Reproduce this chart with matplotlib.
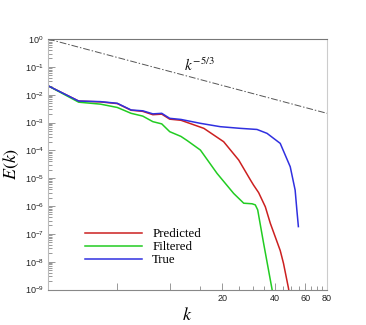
import matplotlib
matplotlib.use("Agg")
import matplotlib.pyplot as plt
from matplotlib.ticker import FixedLocator, NullFormatter, LogLocator, LogFormatterSciNotation
import numpy as np

# wavenumbers and log10(E)
k_true = [2, 3, 4, 5, 6, 7, 8, 9, 10, 11.6, 15, 19.5, 25.4, 31.7, 36.2, 43.1, 49.2, 52.5, 53.7, 54.8]
logE_true = [-1.68, -2.23, -2.25, -2.31, -2.55, -2.58, -2.69, -2.67, -2.85, -2.89, -3.03, -3.15,
             -3.21, -3.25, -3.39, -3.75, -4.59, -5.43, -6.14, -6.74]

k_pred = [2, 3, 4, 5, 6, 7, 8, 9, 10, 11.6, 15.7, 20.4, 24.9, 29.1, 30.3, 32.4, 35.4, 37.8,
          43.1, 45.0, 48.1, 49.0]
logE_pred = [-1.68, -2.23, -2.26, -2.32, -2.56, -2.60, -2.72, -2.70, -2.88, -2.92, -3.21, -3.69,
             -4.35, -5.07, -5.25, -5.52, -6.03, -6.62, -7.6, -8.06, -8.96, -9.3]

k_filt = [2, 3, 4, 5, 6, 7, 8, 9, 10, 11.6, 12.6, 15, 18.7, 23.3, 26.6, 29.7, 31.0, 32.0,
          34.6, 38.6, 39.2]
logE_filt = [-1.68, -2.27, -2.34, -2.46, -2.67, -2.77, -2.97, -3.05, -3.33, -3.50, -3.65, -3.99,
             -4.83, -5.55, -5.90, -5.92, -5.96, -6.14, -7.34, -8.96, -9.2]

k_ref = [2, 80]
labels = ["Predicted", "Filtered", "True"]

plt.rcParams['mathtext.fontset'] = 'stix'
plt.rcParams['font.family'] = ['Liberation Sans', 'DejaVu Sans']

fig = plt.figure(figsize=(3.66, 3.25), dpi=100)
ax = fig.add_axes([48 / 366, 1 - 289.5 / 325, (327 - 48) / 366, (289.5 - 39) / 325])

ax.plot(k_pred, 10 ** np.array(logE_pred), color='#cc2020', lw=1.1, label=labels[0])
ax.plot(k_filt, 10 ** np.array(logE_filt), color='#22cc22', lw=1.1, label=labels[1])
ax.plot(k_true, 10 ** np.array(logE_true), color='#3030e0', lw=1.1, label=labels[2])

# k^-5/3 reference line
k_ref = np.array(k_ref, dtype=float)
ax.plot(k_ref, (k_ref / 2.0) ** (-5.0 / 3.0), color='#555555', lw=0.7, dashes=(7, 2, 1.5, 2))
ax.text(14.8, 10 ** -0.95, r'$k^{-5/3}$', fontsize=11, ha='center', va='center', color='#111111')

ax.set_xscale('log')
ax.set_yscale('log')
ax.set_xlim(2, 80)
ax.set_ylim(1e-9, 1)

# x ticks (Tecplot-like)
ax.xaxis.set_major_locator(FixedLocator([5, 10, 20, 40, 60, 80]))
ax.set_xticklabels(['', '', '20', '40', '60', '80'])
ax.xaxis.set_minor_locator(FixedLocator([15, 25, 30, 35, 45, 50, 55, 65, 70, 75]))
ax.xaxis.set_minor_formatter(NullFormatter())

ax.yaxis.set_major_locator(LogLocator(base=10, numticks=20))
ax.yaxis.set_major_formatter(LogFormatterSciNotation())
ax.yaxis.set_minor_locator(LogLocator(base=10, subs=np.arange(2, 10), numticks=20))
ax.yaxis.set_minor_formatter(NullFormatter())

ax.tick_params(which='both', direction='in', colors='#888888', labelcolor='#222222',
               labelsize=6.5, width=0.6, top=False, right=False)
ax.tick_params(which='major', length=5)
ax.tick_params(which='minor', length=3)
ax.tick_params(axis='x', pad=3)
ax.tick_params(axis='y', pad=3)

for side, col in [('top', '#777777'), ('bottom', '#888888'), ('left', '#bbbbbb'), ('right', '#cccccc')]:
    ax.spines[side].set_color(col)
    ax.spines[side].set_linewidth(0.8)

ax.set_xlabel(r'$k$', fontsize=13, va='center')
ax.set_ylabel(r'$E(k)$', fontsize=13, va='center')
ax.xaxis.set_label_coords(0.5, -0.102)
ax.yaxis.set_label_coords(-0.13, 0.5)

ax.legend(loc='upper left', bbox_to_anchor=(0.114, 0.265), frameon=False, handlelength=4.4,
          handletextpad=0.8, labelspacing=0.08, borderaxespad=0,
          prop={'family': 'Liberation Serif', 'size': 9.3})

fig.savefig('out.png', dpi=100)
